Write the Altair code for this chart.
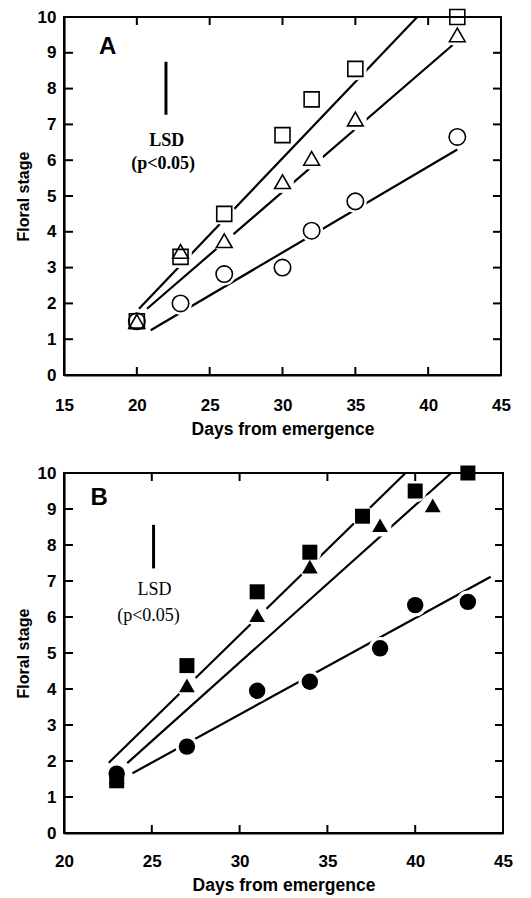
import altair as alt
import pandas as pd

# ---------------- Panel A (open symbols) ----------------
a_days = [20, 23, 26, 30, 32, 35, 42]
a_square = [1.5, 3.3, 4.5, 6.7, 7.7, 8.55, 10.0]
a_triangle = [1.5, 3.45, 3.75, 5.4, 6.05, 7.15, 9.5]
a_circle = [1.5, 2.0, 2.82, 3.0, 4.03, 4.85, 6.65]

# fitted lines (start / end)
a_fit_series = ["Square", "Square", "Triangle", "Triangle", "Circle", "Circle"]
a_fit_days = [20.15, 39.25, 20.7, 42.0, 20.95, 42.0]
a_fit_stage = [1.85, 10.0, 1.85, 9.33, 1.25, 6.3]

a_lsd_day = [22.0]
a_lsd_low = [7.27]
a_lsd_high = [8.75]

# ---------------- Panel B (filled symbols) ----------------
b_days_square = [23, 27, 31, 34, 37, 40, 43]
b_square = [1.45, 4.65, 6.7, 7.8, 8.8, 9.5, 10.0]
b_days_triangle = [23, 27, 31, 34, 38, 41]
b_triangle = [1.55, 4.1, 6.05, 7.4, 8.55, 9.1]
b_days_circle = [23, 27, 31, 34, 38, 40, 43]
b_circle = [1.65, 2.4, 3.95, 4.2, 5.13, 6.33, 6.42]

b_fit_series = ["Square", "Square", "Triangle", "Triangle", "Circle", "Circle"]
b_fit_days = [22.55, 39.45, 23.6, 42.05, 23.9, 44.3]
b_fit_stage = [1.95, 10.0, 1.94, 10.0, 1.66, 7.12]

b_lsd_day = [25.1]
b_lsd_low = [7.35]
b_lsd_high = [8.56]

x_title = "Days from emergence"
y_title = "Floral stage"
y_ticks = list(range(0, 11))
a_x_ticks = [15, 20, 25, 30, 35, 40, 45]
b_x_ticks = [20, 25, 30, 35, 40, 45]

SERIES = ["Square", "Triangle", "Circle"]
SHAPES = ["square", "triangle-up", "circle"]

SANS = "Liberation Sans"
SERIF = "Liberation Serif"


def points_df(pairs):
    rows = []
    for name, days, vals in pairs:
        for d, v in zip(days, vals):
            rows.append({"series": name, "day": d, "stage": v})
    return pd.DataFrame(rows)


def fit_df(series, days, stage):
    return pd.DataFrame({"series": series, "day": days, "stage": stage})


def primary_x(values, label_pad, title_pad):
    return alt.Axis(orient="bottom", values=values, title=x_title, grid=False,
                    ticks=False, tickSize=0, domain=True, domainColor="black",
                    domainWidth=2.2, labelPadding=label_pad, labelFont=SANS,
                    labelFontWeight="bold", labelFontSize=17, labelColor="black",
                    labelOverlap=False,
                    titleFont=SANS, titleFontWeight="bold", titleFontSize=17.5,
                    titleColor="black", titlePadding=title_pad, labelFlush=False,
                    zindex=1)


def primary_y():
    return alt.Axis(orient="left", values=y_ticks, title=y_title, grid=False,
                    ticks=False, tickSize=0, domain=True, domainColor="black",
                    domainWidth=2.2, labelPadding=8, labelFont=SANS,
                    labelFontWeight="bold", labelFontSize=17, labelColor="black",
                    labelOverlap=False,
                    titleFont=SANS, titleFontWeight="bold", titleFontSize=16,
                    titleColor="black", titlePadding=6, labelFlush=False, zindex=1)


def panel(pts, fits, lsd_day, lsd_low, lsd_high, xdom, xticks, filled,
          sizes, letter, letter_pos, lsd_pos, p_pos, lsd_weight, w, h,
          label_pad, title_pad):
    def xs():
        return alt.Scale(domain=xdom, nice=False, zero=False)

    def ys():
        return alt.Scale(domain=[0, 10], nice=False, zero=False)

    def X(f):
        return alt.X(f, scale=xs(), axis=primary_x(xticks, label_pad, title_pad))

    def Y(f):
        return alt.Y(f, scale=ys(), axis=primary_y())

    def XD(v):
        return alt.XDatum(v, type="quantitative", scale=xs(),
                          axis=primary_x(xticks, label_pad, title_pad))

    def YD(v):
        return alt.YDatum(v, type="quantitative", scale=ys(), axis=primary_y())

    lines = alt.Chart(fits).mark_line(color="black", strokeWidth=2.2).encode(
        x=X("day:Q"), y=Y("stage:Q"), detail="series:N",
    )

    halo = alt.Chart(pts).transform_filter(alt.datum.stage < 9.95).mark_point(
        filled=True, fill="white", stroke="white", shape="circle", size=430,
        opacity=1).encode(x=X("day:Q"), y=Y("stage:Q"))

    if filled:
        mk = alt.Chart(pts).mark_point(filled=True, color="black", opacity=1)
    else:
        mk = alt.Chart(pts).mark_point(filled=False, color="black", opacity=1,
                                       strokeWidth=1.6)
    markers = mk.encode(
        x=X("day:Q"),
        y=Y("stage:Q"),
        shape=alt.Shape("series:N", scale=alt.Scale(domain=SERIES, range=SHAPES),
                        legend=None),
        size=alt.Size("series:O", scale=alt.Scale(domain=SERIES, range=sizes),
                      legend=None),
    )

    lsd_df = pd.DataFrame({"day": lsd_day, "low": lsd_low, "high": lsd_high})
    lsd = alt.Chart(lsd_df).mark_rule(color="black", strokeWidth=3).encode(
        x=X("day:Q"), y=Y("low:Q"), y2="high:Q",
    )

    # inward tick marks on all four sides of the frame
    inner_x = pd.DataFrame({"tick": [v for v in xticks if xdom[0] < v < xdom[1]]})
    inner_y = pd.DataFrame({"tick": [v for v in y_ticks if 0 < v < 10]})
    tk = dict(color="black", thickness=2, size=8, opacity=1)
    t_bottom = alt.Chart(inner_x).mark_tick(orient="vertical", yOffset=-4, **tk).encode(
        x=X("tick:Q"), y=YD(0))
    t_top = alt.Chart(inner_x).mark_tick(orient="vertical", yOffset=4, **tk).encode(
        x=X("tick:Q"), y=YD(10))
    t_left = alt.Chart(inner_y).mark_tick(orient="horizontal", xOffset=4.5,
                                          color="black", thickness=2, size=9,
                                          opacity=1).encode(
        y=Y("tick:Q"), x=XD(xdom[0]))
    t_right = alt.Chart(inner_y).mark_tick(orient="horizontal", xOffset=-4, **tk).encode(
        y=Y("tick:Q"), x=XD(xdom[1]))

    txt_df = pd.DataFrame({
        "day": [lsd_pos[0], p_pos[0]],
        "stage": [lsd_pos[1], p_pos[1]],
        "label": ["LSD", "(p<0.05)"],
    })
    txt = alt.Chart(txt_df).mark_text(font=SERIF, fontWeight=lsd_weight,
                                      fontSize=18, color="black").encode(
        x=X("day:Q"), y=Y("stage:Q"), text="label:N",
    )

    let_df = pd.DataFrame({"day": [letter_pos[0]], "stage": [letter_pos[1]],
                           "label": [letter]})
    let = alt.Chart(let_df).mark_text(font=SANS, fontWeight="bold", fontSize=24,
                                      color="black").encode(
        x=X("day:Q"), y=Y("stage:Q"), text="label:N",
    )

    return (
        alt.layer(lines, halo, markers, lsd, t_bottom, t_top, t_left, t_right,
                  txt, let)
        .properties(width=w, height=h)
    )


pts_a = points_df([("Square", a_days, a_square),
                   ("Triangle", a_days, a_triangle),
                   ("Circle", a_days, a_circle)])
pts_b = points_df([("Square", b_days_square, b_square),
                   ("Triangle", b_days_triangle, b_triangle),
                   ("Circle", b_days_circle, b_circle)])

chart_a = panel(pts_a, fit_df(a_fit_series, a_fit_days, a_fit_stage),
                a_lsd_day, a_lsd_low, a_lsd_high, [15, 45], a_x_ticks, False,
                [225, 270, 250], "A", (18.0, 9.17), (22.05, 6.55), (21.8, 5.88),
                "bold", 437, 358, 22, 7)
chart_b = panel(pts_b, fit_df(b_fit_series, b_fit_days, b_fit_stage),
                b_lsd_day, b_lsd_low, b_lsd_high, [20, 45], b_x_ticks, True,
                [205, 220, 280], "B", (22.0, 9.3), (25.15, 6.75), (24.81, 6.03),
                "normal", 439, 360, 20, 7)

chart = (
    alt.vconcat(chart_a, chart_b, spacing=24)
    .resolve_scale(x="independent", y="independent")
    .properties(padding={"left": 6, "top": -3, "right": 5, "bottom": 0},
                background="white")
    .configure_view(stroke="black", strokeWidth=2)
)

chart.save("out.html", embed_options={"renderer": "svg", "actions": False})
